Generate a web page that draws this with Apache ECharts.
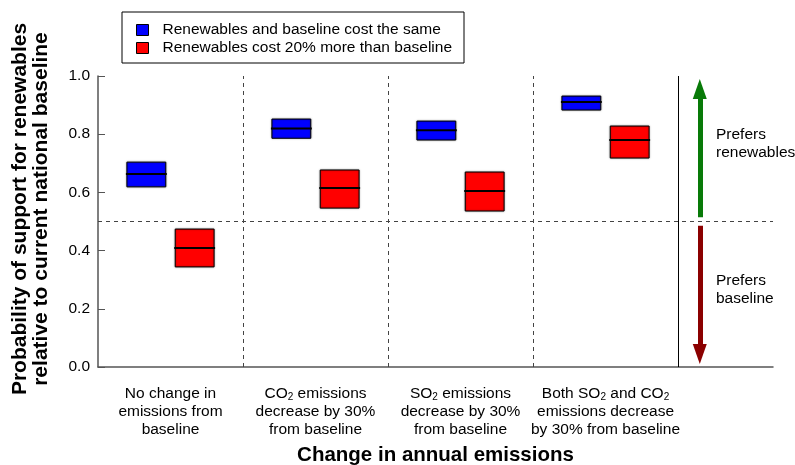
<!DOCTYPE html>
<html>
<head>
<meta charset="utf-8">
<script src="https://cdn.jsdelivr.net/npm/echarts@6/dist/echarts.min.js"></script>
<style>html,body{margin:0;padding:0;background:#fff}#c{width:795px;height:465px}</style>
</head>
<body>
<div id="c"></div>
<script>
const categories = [
  'No change in\nemissions from\nbaseline',
  'CO{sub|2} emissions\ndecrease by 30%\nfrom baseline',
  'SO{sub|2} emissions\ndecrease by 30%\nfrom baseline',
  'Both SO{sub|2} and CO{sub|2}\nemissions decrease\nby 30% from baseline'
];
const seriesNames = ['Renewables and baseline cost the same', 'Renewables cost 20% more than baseline'];
const blueLow  = [0.619, 0.786, 0.780, 0.883];
const blueMid  = [0.663, 0.820, 0.814, 0.911];
const blueHigh = [0.704, 0.852, 0.845, 0.931];
const redLow   = [0.344, 0.546, 0.536, 0.718];
const redMid   = [0.409, 0.615, 0.605, 0.780];
const redHigh  = [0.474, 0.677, 0.670, 0.828];
const yTicks = [0, 0.2, 0.4, 0.6, 0.8, 1.0];

const FONT = 'Liberation Sans, Arial, Helvetica, sans-serif';
const FS = 15.5;
const HW = 0.134;
function boxData(lo, mid, hi, off) {
  return lo.map((v, i) => [i + off, lo[i], mid[i], hi[i]]);
}
function makeRender(color) {
  return function (params, api) {
    const x = api.value(0), lo = api.value(1), mid = api.value(2), hi = api.value(3);
    const p1 = api.coord([x - HW, hi]);
    const p2 = api.coord([x + HW, lo]);
    const m1 = api.coord([x - HW, mid]);
    const m2 = api.coord([x + HW, mid]);
    return {
      type: 'group',
      children: [
        { type: 'rect', shape: { x: p1[0], y: p1[1], width: p2[0] - p1[0], height: p2[1] - p1[1] },
          style: { fill: color, stroke: '#000', lineWidth: 1, shadowColor: 'rgba(0,0,0,0.35)', shadowBlur: 2 } },
        { type: 'line', shape: { x1: m1[0] - 1, y1: m1[1], x2: m2[0] + 1, y2: m2[1] },
          style: { stroke: '#000', lineWidth: 2 } }
      ]
    };
  };
}
const chart = echarts.init(document.getElementById('c'));
const dashStyle = { color: '#444', type: [4, 4], width: 1 };
chart.setOption({
  animation: false,
  textStyle: { fontFamily: FONT },
  grid: { left: 98, right: 22, top: 76, bottom: 98, outerBoundsMode: 'none', containLabel: false },
  legend: {
    orient: 'vertical', left: 122, top: 12,
    padding: [9, 12, 6, 14], itemGap: 0,
    borderColor: '#000', borderWidth: 1,
    icon: 'rect', itemWidth: 12, itemHeight: 11,
    itemStyle: { borderColor: '#000', borderWidth: 1 },
    textStyle: { fontSize: FS, lineHeight: 18, color: '#000', fontFamily: FONT, padding: [0, 0, 0, 9] },
    data: seriesNames
  },
  xAxis: {
    type: 'value', min: 0, max: 4.655,
    splitLine: { show: false },
    axisLine: { lineStyle: { color: '#555', width: 1.5 } },
    axisTick: { show: false },
    axisLabel: {
      customValues: [0.5, 1.5, 2.5, 3.5],
      formatter: v => categories[Math.floor(v)],
      margin: 18, fontSize: FS, color: '#000', lineHeight: 18, align: 'center',
      rich: { sub: { fontSize: 10, lineHeight: 18, padding: [7, 0, 0, 0] } }
    },
    name: 'Change in annual emissions', nameLocation: 'middle', nameGap: 78,
    nameTextStyle: { fontSize: 20.5, fontWeight: 'bold', color: '#000', fontFamily: FONT }
  },
  yAxis: {
    type: 'value', min: 0, max: 1, interval: 0.2,
    splitLine: { show: false },
    axisLine: { show: true, lineStyle: { color: '#555', width: 1.5 } },
    axisTick: { show: true, inside: true, length: 7, lineStyle: { color: '#555' } },
    axisLabel: { formatter: v => v.toFixed(1), fontSize: FS, color: '#000', margin: 8 }
  },
  graphic: [
    { type: 'text', x: 31, y: 209, rotation: Math.PI / 2,
      style: { text: 'Probability of support for renewables\nrelative to current national baseline',
        fontSize: 21, fontWeight: 'bold', fontFamily: FONT, fill: '#000', align: 'center', verticalAlign: 'middle', lineHeight: 21 } },
    { type: 'text', x: 716, y: 144,
      style: { text: 'Prefers\nrenewables', fontSize: FS, fontFamily: FONT, fill: '#000', align: 'left', verticalAlign: 'middle', lineHeight: 18 } },
    { type: 'text', x: 716, y: 290,
      style: { text: 'Prefers\nbaseline', fontSize: FS, fontFamily: FONT, fill: '#000', align: 'left', verticalAlign: 'middle', lineHeight: 18 } }
  ],
  series: [
    {
      name: seriesNames[0], type: 'custom', renderItem: makeRender('#0000ff'),
      itemStyle: { color: '#0000ff' },
      encode: { x: 0, y: [1, 2, 3] },
      data: boxData(blueLow, blueMid, blueHigh, 1 / 3),
      z: 5,
      markLine: {
        silent: true, symbol: ['none', 'none'], label: { show: false },
        lineStyle: dashStyle,
        data: [
          { xAxis: 1 }, { xAxis: 2 }, { xAxis: 3 }, { yAxis: 0.5 },
          { xAxis: 4, lineStyle: { color: '#000', type: 'solid', width: 1 } }
        ]
      }
    },
    {
      name: seriesNames[1], type: 'custom', renderItem: makeRender('#ff0000'),
      itemStyle: { color: '#ff0000' },
      encode: { x: 0, y: [1, 2, 3] },
      data: boxData(redLow, redMid, redHigh, 2 / 3),
      z: 5,
      markLine: {
        silent: true, label: { show: false },
        symbol: ['none', 'triangle'], symbolSize: [14, 20],
        data: [
          [{ coord: [4.15, 0.515], lineStyle: { color: '#087a08', width: 5, type: 'solid' }, itemStyle: { color: '#087a08' } },
           { coord: [4.15, 0.955] }],
          [{ coord: [4.15, 0.485], lineStyle: { color: '#8b0000', width: 5, type: 'solid' }, itemStyle: { color: '#8b0000' } },
           { coord: [4.15, 0.045] }]
        ]
      }
    }
  ]
});
</script>
</body>
</html>
